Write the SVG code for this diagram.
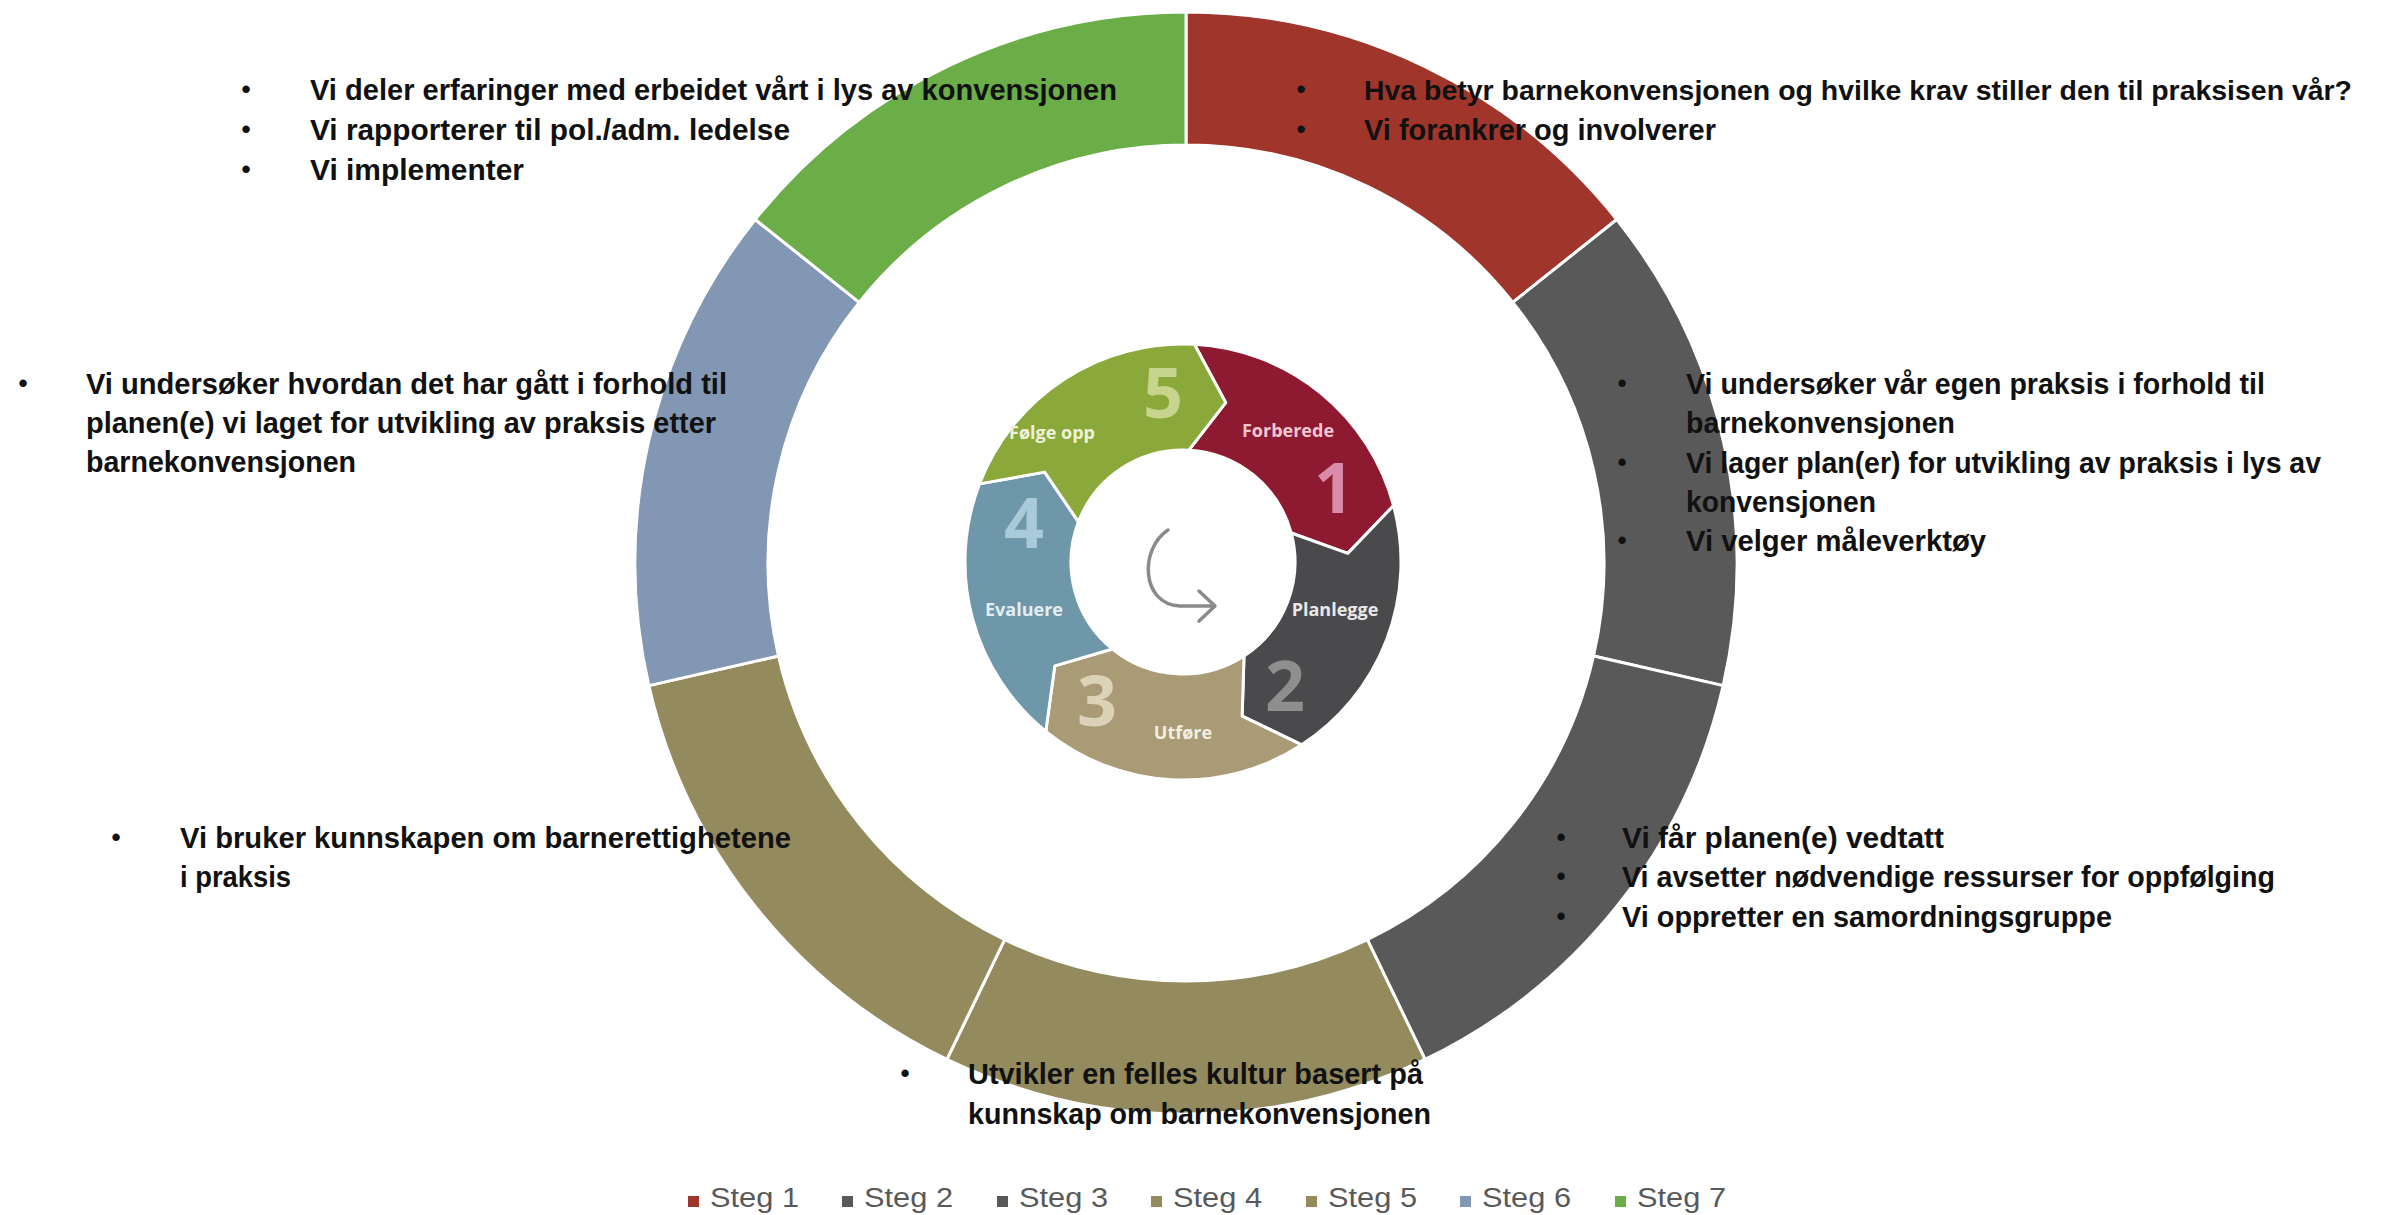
<svg xmlns="http://www.w3.org/2000/svg" width="2390" height="1215" viewBox="0 0 2390 1215">
<style>
.seg{stroke:#fff;stroke-width:3;stroke-linejoin:round}
.t{font-family:"Liberation Sans",Arial,sans-serif;font-weight:bold;font-size:30px;fill:#111}
.bu{font-family:"Liberation Sans",Arial,sans-serif;font-weight:bold;font-size:26px;fill:#111;text-anchor:middle}
.lg{font-family:"Liberation Sans",Arial,sans-serif;font-size:27px;fill:#595959}
.cl{font-family:"Open Sans","Liberation Sans",sans-serif;font-weight:bold;font-size:18px;text-anchor:middle}
.num{font-family:"Open Sans","Liberation Sans",sans-serif;font-weight:bold;font-size:70px;text-anchor:middle}
.cs{stroke:#fff;stroke-width:3;stroke-linejoin:round}
</style>
<rect width="2390" height="1215" fill="#fff"/>

<g id="outer-ring">
  <path id="steg1" class="seg" fill="#A0352B" d="M1186 12 A551 551 0 0 1 1616.79 219.46 L1512.80 302.38 A418 418 0 0 0 1186 145 Z"/>
  <path id="steg2" class="seg" fill="#595959" d="M1616.79 219.46 A551 551 0 0 1 1723.19 685.61 L1593.52 656.01 A418 418 0 0 0 1512.80 302.38 Z"/>
  <path id="steg3" class="seg" fill="#595959" d="M1723.19 685.61 A551 551 0 0 1 1425.07 1059.43 L1367.36 939.61 A418 418 0 0 0 1593.52 656.01 Z"/>
  <path id="steg4" class="seg" fill="#938A5E" d="M1425.07 1059.43 A551 551 0 0 1 946.93 1059.43 L1004.64 939.61 A418 418 0 0 0 1367.36 939.61 Z"/>
  <path id="steg5" class="seg" fill="#938A5E" d="M946.93 1059.43 A551 551 0 0 1 648.81 685.61 L778.48 656.01 A418 418 0 0 0 1004.64 939.61 Z"/>
  <path id="steg6" class="seg" fill="#8297B3" d="M648.81 685.61 A551 551 0 0 1 755.21 219.46 L859.20 302.38 A418 418 0 0 0 778.48 656.01 Z"/>
  <path id="steg7" class="seg" fill="#6BAE47" d="M755.21 219.46 A551 551 0 0 1 1186 12 L1186 145 A418 418 0 0 0 859.20 302.38 Z"/>
</g>

<g id="cycle">
  <g id="c1">
    <path class="cs" fill="#8E1A31" d="M1194.41 344.30 A218 218 0 0 1 1393.57 505.58 L1347.77 553.36 L1291.18 533.01 A112 112 0 0 0 1188.86 450.15 L1225.71 402.62 Z"/>
    <text class="cl" x="1288" y="437" fill="#F2C6D3">Forberede</text>
    <text class="num" x="1334" y="513" fill="#D98BA9">1</text>
  </g>
  <g id="c2">
    <path class="cs" fill="#4A4A4C" d="M1393.57 505.58 A218 218 0 0 1 1301.73 744.83 L1242.13 716.04 L1244.00 655.93 A112 112 0 0 0 1291.18 533.01 L1347.77 553.36 Z"/>
    <text class="cl" x="1335" y="616" fill="#E8E8E8">Planlegge</text>
    <text class="num" x="1285" y="711" fill="#8E8E8E">2</text>
  </g>
  <g id="c3">
    <path class="cs" fill="#A89B75" d="M1301.73 744.83 A218 218 0 0 1 1045.81 731.42 L1054.77 665.84 L1112.52 649.04 A112 112 0 0 0 1244.00 655.93 L1242.13 716.04 Z"/>
    <text class="cl" x="1183" y="739" fill="#F3EEE0">Utføre</text>
    <text class="num" x="1097" y="726" fill="#DCD2B8">3</text>
  </g>
  <g id="c4">
    <path class="cs" fill="#6F97AA" d="M1045.81 731.42 A218 218 0 0 1 979.48 483.88 L1044.62 472.13 L1078.44 521.86 A112 112 0 0 0 1112.52 649.04 L1054.77 665.84 Z"/>
    <text class="cl" x="1024" y="616" fill="#E3EEF2">Evaluere</text>
    <text class="num" x="1024" y="548" fill="#A8CAD9">4</text>
  </g>
  <g id="c5">
    <path class="cs" fill="#8BA83B" d="M979.48 483.88 A218 218 0 0 1 1194.41 344.30 L1225.71 402.62 L1188.86 450.15 A112 112 0 0 0 1078.44 521.86 L1044.62 472.13 Z"/>
    <text class="cl" x="1052" y="439" fill="#EEF3D8">Følge opp</text>
    <text class="num" x="1163" y="418" fill="#C6D48E">5</text>
  </g>
</g>

<g id="connectors">
  <path d="M1168 530 C1140 548 1140 604 1180 606 L1214 606" fill="none" stroke="#8A8A8A" stroke-width="3.5" stroke-linecap="round"/>
  <path d="M1199 591 L1215 606 L1199 621" fill="none" stroke="#8A8A8A" stroke-width="3.5" stroke-linecap="round" stroke-linejoin="round"/>
</g>

<g id="text-steg7">
  <text class="bu" x="246" y="98">•</text><text class="t" x="310" y="100" textLength="807" lengthAdjust="spacingAndGlyphs">Vi deler erfaringer med erbeidet vårt i lys av konvensjonen</text>
  <text class="bu" x="246" y="138">•</text><text class="t" x="310" y="140" textLength="480" lengthAdjust="spacingAndGlyphs">Vi rapporterer til pol./adm. ledelse</text>
  <text class="bu" x="246" y="178">•</text><text class="t" x="310" y="180" textLength="214" lengthAdjust="spacingAndGlyphs">Vi implementer</text>
</g>

<g id="text-steg1">
  <text class="bu" x="1301" y="98">•</text><text class="t" x="1364" y="100" font-size="28" style="font-size:28px" textLength="988" lengthAdjust="spacingAndGlyphs">Hva betyr barnekonvensjonen og hvilke krav stiller den til praksisen vår?</text>
  <text class="bu" x="1301" y="138">•</text><text class="t" x="1364" y="140" textLength="352" lengthAdjust="spacingAndGlyphs">Vi forankrer og involverer</text>
</g>

<g id="text-steg2">
  <text class="bu" x="1622" y="392">•</text><text class="t" x="1686" y="394" textLength="579" lengthAdjust="spacingAndGlyphs">Vi undersøker vår egen praksis i forhold til</text>
  <text class="t" x="1686" y="433" textLength="269" lengthAdjust="spacingAndGlyphs">barnekonvensjonen</text>
  <text class="bu" x="1622" y="471">•</text><text class="t" x="1686" y="473" textLength="635" lengthAdjust="spacingAndGlyphs">Vi lager plan(er) for utvikling av praksis i lys av</text>
  <text class="t" x="1686" y="512" textLength="190" lengthAdjust="spacingAndGlyphs">konvensjonen</text>
  <text class="bu" x="1622" y="549">•</text><text class="t" x="1686" y="551" textLength="300" lengthAdjust="spacingAndGlyphs">Vi velger måleverktøy</text>
</g>

<g id="text-steg6">
  <text class="bu" x="23" y="392">•</text><text class="t" x="86" y="394" textLength="641" lengthAdjust="spacingAndGlyphs">Vi undersøker hvordan det har gått i forhold til</text>
  <text class="t" x="86" y="433" textLength="630" lengthAdjust="spacingAndGlyphs">planen(e) vi laget for utvikling av praksis etter</text>
  <text class="t" x="86" y="472" textLength="270" lengthAdjust="spacingAndGlyphs">barnekonvensjonen</text>
</g>

<g id="text-steg5">
  <text class="bu" x="116" y="846">•</text><text class="t" x="180" y="848" textLength="611" lengthAdjust="spacingAndGlyphs">Vi bruker kunnskapen om barnerettighetene</text>
  <text class="t" x="180" y="887" textLength="111" lengthAdjust="spacingAndGlyphs">i praksis</text>
</g>

<g id="text-steg3">
  <text class="bu" x="1561" y="846">•</text><text class="t" x="1622" y="848" textLength="322" lengthAdjust="spacingAndGlyphs">Vi får planen(e) vedtatt</text>
  <text class="bu" x="1561" y="885">•</text><text class="t" x="1622" y="887" textLength="653" lengthAdjust="spacingAndGlyphs">Vi avsetter nødvendige ressurser for oppfølging</text>
  <text class="bu" x="1561" y="925">•</text><text class="t" x="1622" y="927" textLength="490" lengthAdjust="spacingAndGlyphs">Vi oppretter en samordningsgruppe</text>
</g>

<g id="text-steg4">
  <text class="bu" x="905" y="1082">•</text><text class="t" x="968" y="1084" textLength="455" lengthAdjust="spacingAndGlyphs">Utvikler en felles kultur basert på</text>
  <text class="t" x="968" y="1124" textLength="463" lengthAdjust="spacingAndGlyphs">kunnskap om barnekonvensjonen</text>
</g>

<g id="legend">
  <rect x="688" y="1196" width="11" height="11" fill="#A0352B"/><text class="lg" x="710" y="1207" textLength="89" lengthAdjust="spacingAndGlyphs">Steg 1</text>
  <rect x="842" y="1196" width="11" height="11" fill="#595959"/><text class="lg" x="864" y="1207" textLength="89" lengthAdjust="spacingAndGlyphs">Steg 2</text>
  <rect x="997" y="1196" width="11" height="11" fill="#595959"/><text class="lg" x="1019" y="1207" textLength="89" lengthAdjust="spacingAndGlyphs">Steg 3</text>
  <rect x="1151" y="1196" width="11" height="11" fill="#938A5E"/><text class="lg" x="1173" y="1207" textLength="89" lengthAdjust="spacingAndGlyphs">Steg 4</text>
  <rect x="1306" y="1196" width="11" height="11" fill="#938A5E"/><text class="lg" x="1328" y="1207" textLength="89" lengthAdjust="spacingAndGlyphs">Steg 5</text>
  <rect x="1460" y="1196" width="11" height="11" fill="#8297B3"/><text class="lg" x="1482" y="1207" textLength="89" lengthAdjust="spacingAndGlyphs">Steg 6</text>
  <rect x="1615" y="1196" width="11" height="11" fill="#6BAE47"/><text class="lg" x="1637" y="1207" textLength="89" lengthAdjust="spacingAndGlyphs">Steg 7</text>
</g>
</svg>
